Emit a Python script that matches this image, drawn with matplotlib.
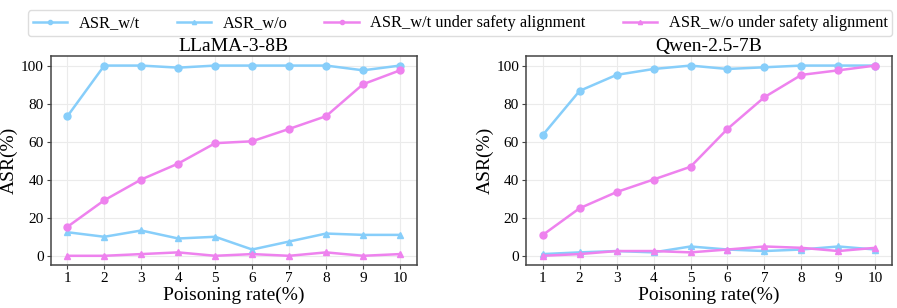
import numpy as np
import matplotlib
matplotlib.use("Agg")
import matplotlib.pyplot as plt

plt.rcParams['font.family'] = ['Liberation Serif', 'DejaVu Serif']

rates = [1, 2, 3, 4, 5, 6, 7, 8, 9, 10]

llama_wt = [73.3, 100, 100, 98.9, 100, 100, 100, 100, 97.5, 100]
llama_wo = [12.4, 10.0, 13.3, 9.1, 10.0, 3.3, 7.5, 11.7, 11.0, 11.0]
llama_wt_safe = [15.2, 29.2, 40.1, 48.5, 59.2, 60.2, 66.7, 73.4, 90.2, 97.5]
llama_wo_safe = [0, 0, 0.9, 1.8, 0, 0.9, 0, 1.8, 0, 0.9]

qwen_wt = [63.4, 86.7, 95.1, 98.2, 100, 98.2, 99.1, 100, 100, 100]
qwen_wo = [0.9, 1.8, 2.5, 1.8, 4.9, 3.3, 2.5, 3.3, 4.9, 3.3]
qwen_wt_safe = [10.9, 25.0, 33.5, 40.1, 46.8, 66.7, 83.4, 95.1, 97.5, 100]
qwen_wo_safe = [0, 0.9, 2.5, 2.5, 1.8, 3.3, 4.9, 4.2, 2.5, 4.2]

titles = ["LLaMA-3-8B", "Qwen-2.5-7B"]
series = [
    (llama_wt, llama_wo, llama_wt_safe, llama_wo_safe),
    (qwen_wt, qwen_wo, qwen_wt_safe, qwen_wo_safe),
]
labels = ["ASR_w/t", "ASR_w/o", "ASR_w/t under safety alignment",
          "ASR_w/o under safety alignment"]
blue = "#87CEFA"
pink = "#EE82EE"
styles = [(blue, 'o'), (blue, '^'), (pink, 'o'), (pink, '^')]

fig = plt.figure(figsize=(8.97, 3.08), dpi=100)
ax1 = fig.add_axes([0.0565, 0.1386, 0.408, 0.6794])
ax2 = fig.add_axes([0.5864, 0.1386, 0.408, 0.6794])

for ax, title, data in zip([ax1, ax2], titles, series):
    for vals, (c, m), lab in zip(data, styles, labels):
        ax.plot(rates, vals, color=c, marker=m, markersize=5, linewidth=1.8,
                label=lab)
    ax.set_title(title, fontsize=14, pad=4)
    ax.set_xlabel("Poisoning rate(%)", fontsize=14, labelpad=1)
    ax.set_ylabel("ASR(%)", fontsize=14, labelpad=2)
    ax.set_xticks(rates)
    ax.set_yticks([0, 20, 40, 60, 80, 100])
    ax.tick_params(labelsize=11, length=3, color="#444444", pad=2)
    ax.grid(True, color="#ebebeb", linewidth=0.8)
    ax.set_axisbelow(True)
    for s in ax.spines.values():
        s.set_color("#444444")
        s.set_linewidth(1.1)

handles, labs = ax1.get_legend_handles_labels()
fig.legend(handles, labs, loc='upper center', bbox_to_anchor=(0.513, 0.993),
           ncol=4, fontsize=11.8, handlelength=2.1, handletextpad=0.7,
           columnspacing=2.25, markerscale=0.6, edgecolor="#dddddd",
           framealpha=1, borderpad=0.3)

plt.savefig("out.png", dpi=100)
plt.close()
